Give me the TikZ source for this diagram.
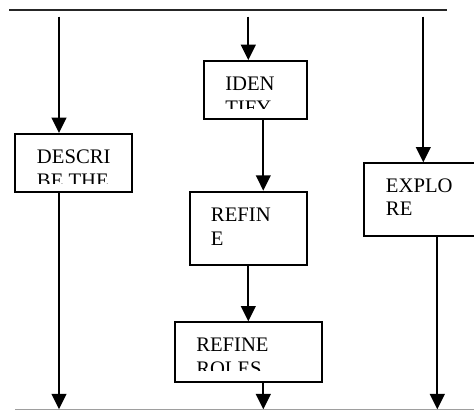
\documentclass[tikz,border=0pt]{standalone}
\usepackage{fontspec}
\setmainfont{Liberation Serif}
\usetikzlibrary{arrows.meta}
\tikzset{
  boxnode/.style={draw=black, line width=1.4pt, fill=white, inner sep=0pt},
  boxtext/.style={anchor=base west, inner sep=0pt, font=\fontsize{15.5}{18}\selectfont},
  conn/.style={line width=1.5pt, draw=black, -{Triangle[width=11pt,length=11.5pt]}},
}
\begin{document}
\begin{tikzpicture}[x=0.75pt, y=-0.75pt]
\useasboundingbox (0,0) rectangle (474,410);

% rails
\coordinate (topL) at (9,10);
\coordinate (topR) at (446.7,10);
\coordinate (botL) at (15,409.3);
\coordinate (botR) at (474,409.3);
\draw[line width=1.1pt, black!85] (topL) -- (topR);
\draw[line width=0.9pt, black!38] (botL) -- (botR);

% boxes
\node[boxnode, minimum width=87.75pt, minimum height=43.5pt] (desc) at (73.5,163) {};
\node[boxnode, minimum width=77pt, minimum height=43.5pt] (iden) at (255.3,90) {};
\node[boxnode, minimum width=87.5pt, minimum height=55pt] (ref) at (248.3,228.3) {};
\node[boxnode, minimum width=110pt, minimum height=44.5pt] (roles) at (248.3,352) {};
\node[boxnode, minimum width=94.3pt, minimum height=54.3pt] (expl) at (427.2,199.5) {};

% texts (clipped inside the boxes)
\begin{scope}
  \clip (17,136) rectangle (130,183);
  \node[boxtext] (desc1) at (36.7,163) {DESCRI};
  \node[boxtext] (desc2) at (36.7,187) {BE THE};
\end{scope}
\begin{scope}
  \clip (206,63) rectangle (304,108);
  \node[boxtext] (iden1) at (225,90.7) {IDEN};
  \node[boxtext] (iden2) at (225,114.7) {TIFY};
\end{scope}
\begin{scope}
  \clip (192,194) rectangle (304,263);
  \node[boxtext] (ref1) at (210.7,221.7) {REFIN};
  \node[boxtext] (ref2) at (210.7,245.7) {E};
\end{scope}
\begin{scope}
  \clip (177,324) rectangle (319,370);
  \node[boxtext] (roles1) at (196,351.7) {REFINE};
  \node[boxtext] (roles2) at (196,375.7) {ROLES};
\end{scope}
\begin{scope}
  \clip (366,165) rectangle (488,234);
  \node[boxtext] (expl1) at (385.7,192.3) {EXPLO};
  \node[boxtext] (expl2) at (385.7,215.7) {RE};
\end{scope}

% column coordinates
\coordinate (s1) at (59,16.7);
\coordinate (s2) at (248.3,16.7);
\coordinate (s3) at (423.3,16.7);
\coordinate (cA) at (263.3,0);
\coordinate (cB) at (248.3,0);
\coordinate (e1) at (59,409.3);
\coordinate (e2) at (263.3,409.3);
\coordinate (e3) at (437.3,409.3);

% connectors
\draw[conn] (s1) -- (desc.north -| s1);
\draw[conn] (s2) -- (iden.north -| s2);
\draw[conn] (s3) -- (expl.north -| s3);
\draw[conn] (iden.south -| cA) -- (ref.north -| cA);
\draw[conn] (ref.south -| cB) -- (roles.north -| cB);
\draw[conn] (desc.south -| e1) -- (e1);
\draw[conn] (roles.south -| e2) -- (e2);
\draw[conn] (expl.south -| e3) -- (e3);
\end{tikzpicture}
\end{document}
